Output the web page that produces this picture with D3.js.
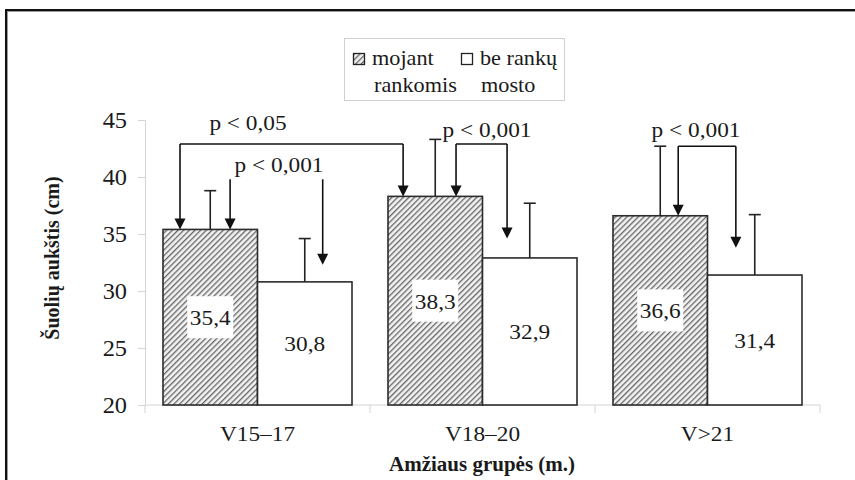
<!DOCTYPE html>
<html>
<head>
<meta charset="utf-8">
<script src="https://cdn.jsdelivr.net/npm/d3@7"></script>
<style>
  html, body { margin: 0; padding: 0; background: #fff; }
  svg { display: block; }
</style>
</head>
<body>
<svg id="chart" width="855" height="480"></svg>
<script>
// Jump height by age group, with and without arm swing
const categories = ["V15–17", "V18–20", "V>21"];
const seriesNames = [["mojant", "rankomis"], ["be rankų", "mosto"]];
const withArms = [35.4, 38.3, 36.6];
const withoutArms = [30.8, 32.9, 31.4];
const errWithArms = [3.4, 5.0, 6.1];
const errWithoutArms = [3.8, 4.8, 5.3];
const yTicks = [20, 25, 30, 35, 40, 45];
const yTitle = "Šuolių aukštis (cm)";
const xTitle = "Amžiaus grupės (m.)";

// Significance markers: each arrow points at a bar (group, series),
// at a fraction across the bar, starting at `from` and ending at `to` (cm).
const sigLabels = ["p < 0,05", "p < 0,001", "p < 0,001", "p < 0,001"];
const sigArrows = [
  [{ g: 0, s: 0, at: 0.18, from: 42.9, to: 35.4 }, { g: 1, s: 0, at: 0.16, from: 42.9, to: 38.3 }],
  [{ g: 0, s: 0, at: 0.71, from: 39.8, to: 35.4 }, { g: 0, s: 1, at: 0.69, from: 39.8, to: 32.3 }],
  [{ g: 1, s: 0, at: 0.72, from: 42.9, to: 38.3 }, { g: 1, s: 1, at: 0.26, from: 42.9, to: 34.6 }],
  [{ g: 2, s: 0, at: 0.69, from: 42.7, to: 36.6 }, { g: 2, s: 1, at: 0.30, from: 42.7, to: 33.8 }]
];
const sigJoined = [true, false, true, true];

const FONT = '"Liberation Serif", serif';
const svg = d3.select("#chart");
const SX = 1.06; // horizontal stretch of the serif lettering

function label(parent, x, y, str, opts = {}) {
  return parent.append("text")
    .attr("transform", `translate(${x},${y}) scale(${opts.sx || SX},1)`)
    .attr("text-anchor", opts.anchor || "middle")
    .attr("fill", "#1a1a1a")
    .style("font-family", FONT)
    .style("font-size", (opts.size || 22) + "px")
    .style("font-weight", opts.bold ? "bold" : "normal")
    .text(str);
}

// hatch pattern
const defs = svg.append("defs");
const pat = defs.append("pattern")
  .attr("id", "hatch").attr("patternUnits", "userSpaceOnUse")
  .attr("width", 4).attr("height", 4)
  .attr("patternTransform", "rotate(45)");
pat.append("rect").attr("width", 4).attr("height", 4).attr("fill", "#f2f2f2");
pat.append("rect").attr("x", 0).attr("width", 1.3).attr("height", 4).attr("fill", "#666");

// outer frame
svg.append("rect").attr("x", 6).attr("y", 10).attr("width", 920).attr("height", 520)
  .attr("fill", "none").attr("stroke", "#111").attr("stroke-width", 2);
svg.append("rect").attr("x", 7.5).attr("y", 11.5).attr("width", 920).attr("height", 520)
  .attr("fill", "none").attr("stroke", "#9a9a9a").attr("stroke-width", 1);

// scales
const x = d3.scaleBand().domain(categories).range([145, 820]).padding(0);
const xs = d3.scaleBand().domain([0, 1]).range([18, 207]).padding(0);
const y = d3.scaleLinear().domain([20, 45]).range([405, 120]);

const axisColor = "#d4d4d4";

// y axis
const gy = svg.append("g").attr("transform", "translate(145,0)")
  .call(d3.axisLeft(y).tickValues(yTicks).tickSize(7).tickPadding(11).tickFormat(d3.format("d")));
gy.attr("font-family", null);
gy.select(".domain").attr("stroke", axisColor);
gy.selectAll(".tick line").attr("stroke", axisColor);
gy.selectAll(".tick text").remove();
yTicks.forEach(v => label(svg, 127, y(v) + 8, String(v), { anchor: "end", size: 23 }));

// x axis: baseline with ticks at category boundaries
const gx = svg.append("g").attr("transform", "translate(0,405)");
gx.append("line").attr("x1", 145).attr("x2", 820).attr("stroke", axisColor);
const edges = categories.map(c => x(c)).concat([x.range()[1]]);
gx.selectAll("line.edge").data(edges).join("line").attr("class", "edge")
  .attr("x1", d => d).attr("x2", d => d).attr("y1", 0).attr("y2", 8).attr("stroke", axisColor);
categories.forEach(c => label(svg, x(c) + x.bandwidth() / 2, 441, c, { size: 22 }));

// axis titles
label(svg, 482, 471, xTitle, { size: 21, bold: true, sx: 1.0 });
svg.append("text")
  .attr("transform", "translate(59,258) rotate(-90)")
  .attr("text-anchor", "middle")
  .attr("fill", "#1a1a1a")
  .style("font-family", FONT)
  .style("font-size", "20px").style("font-weight", "bold")
  .text(yTitle);

// bars
const series = [withArms, withoutArms];
const errs = [errWithArms, errWithoutArms];
const barData = [];
categories.forEach((c, g) => series.forEach((vals, s) => barData.push({ c, g, s, v: vals[g], e: errs[s][g] })));
const bx = d => x(d.c) + xs(d.s);
const bw = xs.bandwidth();

svg.append("g").selectAll("rect").data(barData).join("rect")
  .attr("x", bx).attr("y", d => y(d.v))
  .attr("width", bw).attr("height", d => y(20) - y(d.v))
  .attr("fill", d => d.s === 0 ? "url(#hatch)" : "#fff")
  .attr("stroke", "#2b2b2b").attr("stroke-width", 1.6);

// error bars (upper only)
const eg = svg.append("g").attr("stroke", "#222").attr("stroke-width", 1.6);
barData.forEach(d => {
  const cx = bx(d) + bw / 2;
  eg.append("line").attr("x1", cx).attr("x2", cx).attr("y1", y(d.v)).attr("y2", y(d.v + d.e));
  eg.append("line").attr("x1", cx - 6).attr("x2", cx + 6).attr("y1", y(d.v + d.e)).attr("y2", y(d.v + d.e));
});

// value labels centred in each bar
const fmt = v => d3.format(".1f")(v).replace(".", ",");
barData.forEach(d => {
  const cx = bx(d) + bw / 2;
  const cy = (y(d.v) + y(20)) / 2;
  if (d.s === 0) {
    svg.append("rect").attr("x", cx - 23).attr("y", cy - 21).attr("width", 46).attr("height", 42).attr("fill", "#fff");
  }
  label(svg, cx, cy + 8, fmt(d.v), { size: 22 });
});

// significance arrows
const ag = svg.append("g");
const arrowX = a => x(categories[a.g]) + xs(a.s) + bw * a.at;
sigArrows.forEach((pair, i) => {
  const xa = arrowX(pair[0]), xb = arrowX(pair[1]);
  const top = y(pair[0].from);
  if (sigJoined[i]) {
    ag.append("path")
      .attr("d", `M${xa},${top}H${xb}`)
      .attr("stroke", "#111").attr("stroke-width", 1.6).attr("fill", "none");
  }
  pair.forEach(a => {
    const ax = arrowX(a), tip = y(a.to), y0 = y(a.from);
    ag.append("line").attr("x1", ax).attr("x2", ax).attr("y1", y0).attr("y2", tip - 10)
      .attr("stroke", "#111").attr("stroke-width", 1.6);
    ag.append("path").attr("d", `M${ax - 5.5},${tip - 11}L${ax + 5.5},${tip - 11}L${ax},${tip}Z`).attr("fill", "#111");
  });
});
// p-value labels
label(svg, 248, 130, sigLabels[0], { size: 22 });
label(svg, 279, 172, sigLabels[1], { size: 22 });
label(svg, 487, 137, sigLabels[2], { size: 22 });
label(svg, 696, 137, sigLabels[3], { size: 22 });

// legend
const lg = svg.append("g");
lg.append("rect").attr("x", 344.5).attr("y", 38.5).attr("width", 220).attr("height", 62)
  .attr("fill", "#fff").attr("stroke", "#d0d0d0");
lg.append("rect").attr("x", 353.5).attr("y", 53.5).attr("width", 11).attr("height", 11)
  .attr("fill", "url(#hatch)").attr("stroke", "#222").attr("stroke-width", 1.3);
lg.append("rect").attr("x", 461.5).attr("y", 53.5).attr("width", 11).attr("height", 11)
  .attr("fill", "#fff").attr("stroke", "#222").attr("stroke-width", 1.3);
label(lg, 372, 65, seriesNames[0][0], { anchor: "start", size: 21 });
label(lg, 374, 92, seriesNames[0][1], { anchor: "start", size: 21 });
label(lg, 480, 65, seriesNames[1][0], { anchor: "start", size: 21 });
label(lg, 481, 92, seriesNames[1][1], { anchor: "start", size: 21 });
</script>
</body>
</html>
